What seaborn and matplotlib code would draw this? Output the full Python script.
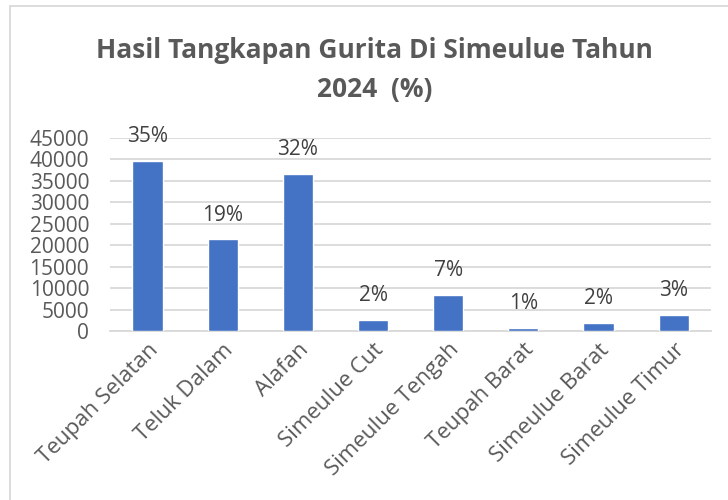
import matplotlib
matplotlib.use("Agg")
import matplotlib.pyplot as plt
import seaborn as sns
import pandas as pd
from matplotlib.patches import Rectangle

kecamatan = ["Teupah Selatan", "Teluk Dalam", "Alafan", "Simeulue Cut",
             "Simeulue Tengah", "Teupah Barat", "Simeulue Barat", "Simeulue Timur"]
tangkapan = [39650, 21350, 36650, 2550, 8350, 650, 1850, 3700]
persen_label = ["35%", "19%", "32%", "2%", "7%", "1%", "2%", "3%"]
y_ticks = [0, 5000, 10000, 15000, 20000, 25000, 30000, 35000, 40000, 45000]

df = pd.DataFrame({"kecamatan": kecamatan, "tangkapan": tangkapan})

sns.set_style("white")
plt.rcParams["font.family"] = ["Open Sans", "DejaVu Sans"]
grey = "#595959"

fig = plt.figure(figsize=(7.28, 5), dpi=100)
ax = fig.add_axes([0.151, 0.338, 0.826, 0.386])

sns.barplot(data=df, x="kecamatan", y="tangkapan", color="#4472C4",
            saturation=1, width=0.4, ax=ax, zorder=3)

ax.set_ylim(0, 45000)
ax.set_yticks(y_ticks)
ax.set_yticklabels([str(t) for t in y_ticks], fontsize=15, color=grey)
ax.yaxis.grid(True, color="#D9D9D9", linewidth=1.3, zorder=0)
ax.set_axisbelow(True)
for s in ["top", "right", "left"]:
    ax.spines[s].set_visible(False)
ax.spines["bottom"].set_color("#D9D9D9")
ax.spines["bottom"].set_linewidth(1.3)
ax.tick_params(axis="y", length=0, pad=15)
ax.tick_params(axis="x", length=0, pad=6)
ax.set_xlabel("")
ax.set_ylabel("")
ax.set_xticks(range(len(kecamatan)))
ax.set_xticklabels(kecamatan, rotation=45, ha="right", rotation_mode="anchor",
                   fontsize=16, color=grey)

for i, (v, lab) in enumerate(zip(tangkapan, persen_label)):
    ax.annotate(lab, (i, v), xytext=(0, 10), textcoords="offset points",
                ha="center", va="bottom", fontsize=15, color="#404040")

fig.text(0.515, 0.86, "Hasil Tangkapan Gurita Di Simeulue Tahun\n2024  (%)",
         ha="center", va="center", fontsize=19, fontweight="bold", color=grey,
         linespacing=1.55)

fig.patches.append(Rectangle((0.014, -0.01), 1.0, 0.998, transform=fig.transFigure,
                             fill=False, edgecolor="#D9D9D9", linewidth=1.3))

fig.savefig("out.png", dpi=100, facecolor="white")
